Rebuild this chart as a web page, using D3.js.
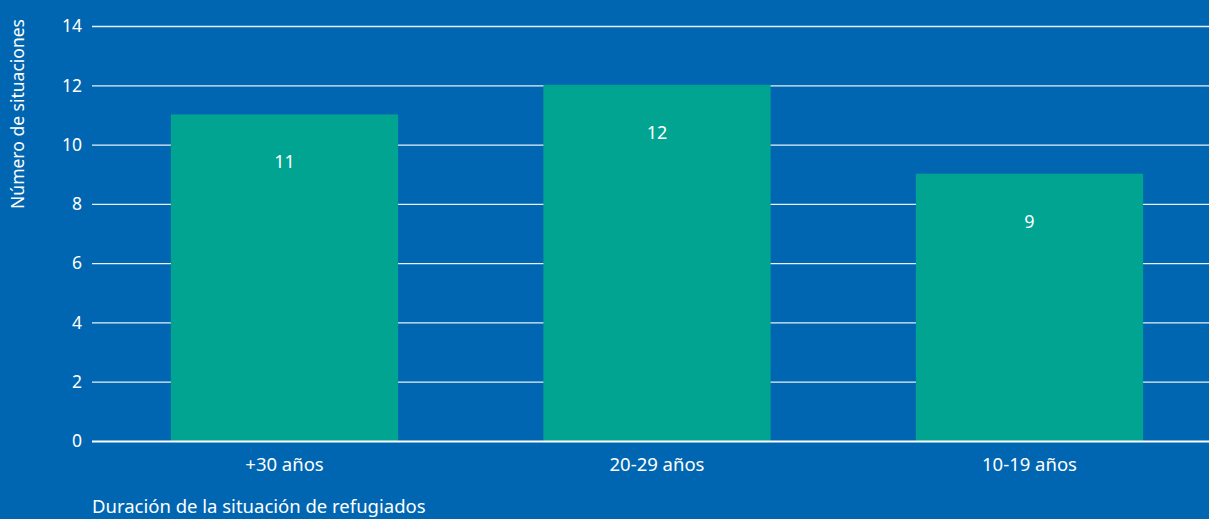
<!DOCTYPE html>
<html>
<head>
<meta charset="utf-8">
<script src="https://cdn.jsdelivr.net/npm/d3@7"></script>
<style>
  body { margin: 0; background: #0066b1; }
  svg { display: block; }
  svg text { font-family: "Noto Sans", sans-serif; fill: #ffffff; }
</style>
</head>
<body>
<div id="chart"></div>
<script>
var categories = ['+30 años', '20-29 años', '10-19 años'];
var values = [11, 12, 9];
var yTicks = [0, 2, 4, 6, 8, 10, 12, 14];

var W = 1209, H = 519;
var plotLeft = 92;

var svg = d3.select('#chart').append('svg')
    .attr('width', W)
    .attr('height', H);

svg.append('rect')
    .attr('width', W)
    .attr('height', H)
    .style('fill', '#0066b1');

var xScale = d3.scaleBand()
    .domain(categories)
    .range([98.25, 1215.75])
    .paddingInner(0.39)
    .paddingOuter(0.195);

var yScale = d3.scaleLinear()
    .domain([0, 14])
    .range([441.5, 26.5]);

// grid lines
svg.append('g')
    .selectAll('line')
    .data(yTicks.slice(1))
  .enter().append('line')
    .attr('x1', plotLeft)
    .attr('x2', W)
    .attr('y1', function(d) { return yScale(d); })
    .attr('y2', function(d) { return yScale(d); })
    .style('stroke', '#ffffff')
    .style('stroke-opacity', 0.9)
    .style('stroke-width', 1.3);

// bars
svg.append('g')
    .selectAll('rect')
    .data(values)
  .enter().append('rect')
    .attr('x', function(d, i) { return xScale(categories[i]); })
    .attr('width', xScale.bandwidth())
    .attr('y', function(d) { return yScale(d) - 1; })
    .attr('height', function(d) { return yScale(0) - yScale(d) + 1; })
    .style('fill', '#00a491');

// value labels
svg.append('g')
    .selectAll('text')
    .data(values)
  .enter().append('text')
    .attr('x', function(d, i) { return xScale(categories[i]) + xScale.bandwidth() / 2; })
    .attr('y', function(d) { return yScale(d) + 53; })
    .style('text-anchor', 'middle')
    .style('font-size', '18px')
    .text(function(d) { return d; });

// baseline
svg.append('line')
    .attr('x1', plotLeft)
    .attr('x2', W)
    .attr('y1', yScale(0))
    .attr('y2', yScale(0))
    .style('stroke', '#ffffff')
    .style('stroke-width', 2);

// y axis
var yAxis = svg.append('g')
    .attr('transform', 'translate(82,0)')
    .call(d3.axisLeft(yScale).tickValues(yTicks).tickSize(0).tickPadding(0));
yAxis.select('.domain').remove();
yAxis.selectAll('text')
    .attr('dy', '0.3em')
    .style('font-family', '"Noto Sans", sans-serif')
    .style('font-size', '17.5px')
    .style('fill', '#ffffff');

// x axis
var xAxis = svg.append('g')
    .attr('transform', 'translate(0,' + yScale(0) + ')')
    .call(d3.axisBottom(xScale).tickSize(0).tickPadding(0));
xAxis.select('.domain').remove();
xAxis.selectAll('text')
    .attr('dy', 0)
    .attr('y', 29)
    .style('font-family', '"Noto Sans", sans-serif')
    .style('font-size', '18.5px')
    .style('fill', '#ffffff');

// axis titles
svg.append('text')
    .attr('x', 92)
    .attr('y', 513)
    .style('font-size', '18.5px')
    .text('Duración de la situación de refugiados');

svg.append('text')
    .attr('transform', 'translate(24,114) rotate(-90)')
    .style('font-size', '17.5px')
    .style('text-anchor', 'middle')
    .text('Número de situaciones');
</script>
</body>
</html>
